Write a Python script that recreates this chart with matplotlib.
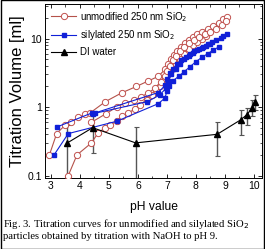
import numpy as np
import matplotlib
matplotlib.use('Agg')
import matplotlib.pyplot as plt
from matplotlib.ticker import MultipleLocator, LogLocator, NullFormatter, FixedLocator

plt.rcParams['font.family'] = ['Liberation Sans', 'DejaVu Sans']

# unmodified 250 nm SiO2, three titration runs
unmod_ph_1 = [2.95, 3.2, 3.5, 3.7, 3.95, 4.18, 4.35, 4.88, 5.45, 5.95, 6.35, 6.7, 6.95, 7.05,
              7.15, 7.25, 7.35, 7.5, 7.62, 7.75, 7.9, 8.05, 8.2, 8.4, 8.6, 8.8, 8.95, 9.08]
unmod_vol_1 = [0.2, 0.41, 0.55, 0.6, 0.71, 0.78, 0.82, 1.2, 1.62, 2.0, 2.4, 2.8, 3.6, 4.2,
               5.0, 5.8, 6.6, 7.6, 8.5, 9.5, 10.5, 11.5, 12.5, 14.0, 15.5, 17.0, 19.0, 20.5]
unmod_ph_2 = [3.6, 3.9, 4.4, 4.63, 4.87, 5.05, 5.27, 5.44, 5.67, 5.9, 6.07, 6.3, 6.47, 6.62,
              6.75, 6.85, 6.95, 7.05, 7.15, 7.3, 7.45, 7.6, 7.75, 7.9, 8.05, 8.2, 8.35]
unmod_vol_2 = [0.1, 0.2, 0.3, 0.42, 0.5, 0.55, 0.62, 0.73, 0.82, 0.94, 1.08, 1.28, 1.5, 1.75,
               2.0, 2.3, 2.6, 3.0, 3.5, 4.2, 5.0, 6.0, 7.0, 8.0, 9.0, 10.0, 11.0]
unmod_ph_3 = [4.4, 4.9, 5.27, 5.55, 5.85, 6.1, 6.35, 6.6, 6.8, 6.92, 7.02, 7.12, 7.22, 7.32,
              7.45, 7.6, 7.75, 7.92, 8.1, 8.3, 8.5, 8.7, 8.9, 9.05]
unmod_vol_3 = [0.6, 0.8, 1.0, 1.14, 1.25, 1.4, 1.6, 1.9, 2.3, 2.8, 3.4, 4.0, 4.8, 5.5,
               6.5, 7.5, 8.5, 9.5, 10.5, 11.5, 12.5, 14.0, 16.0, 18.0]

# silylated 250 nm SiO2, three titration runs
sil_ph_1 = [3.2, 4.41, 4.52, 6.7, 6.95, 7.02, 7.1, 7.2, 7.35, 7.5, 7.65, 7.8, 7.95, 8.1,
            8.25, 8.4, 8.55, 8.7, 8.85, 8.95, 9.07]
sil_vol_1 = [0.51, 0.82, 0.82, 1.63, 2.1, 2.6, 3.1, 3.6, 4.2, 4.8, 5.4, 6.0, 6.6, 7.1,
             7.6, 8.2, 8.8, 9.5, 10.2, 10.9, 11.7]
sil_ph_2 = [3.11, 3.6, 5.27, 6.7, 6.93, 7.0, 7.08, 7.2, 7.4, 7.6, 7.8, 8.0, 8.2, 8.4, 8.6, 8.8]
sil_vol_2 = [0.2, 0.41, 0.62, 1.12, 1.35, 1.7, 2.0, 2.4, 2.8, 3.3, 3.9, 4.6, 5.3, 6.0, 6.8, 7.6]
sil_ph_3 = [4.45, 6.33, 6.75, 6.98, 7.05, 7.15, 7.3, 7.45, 7.6, 7.75, 7.9, 8.05, 8.2, 8.35, 8.5]
sil_vol_3 = [0.8, 1.2, 1.5, 1.9, 2.4, 3.0, 3.6, 4.3, 5.0, 5.6, 6.2, 6.8, 7.3, 7.8, 8.4]

# DI water with error bars (lower / upper bounds)
di_ph = [3.57, 4.44, 5.92, 8.73, 9.54, 9.75, 9.94, 10.03]
di_vol = [0.30, 0.50, 0.30, 0.40, 0.65, 0.77, 0.97, 1.20]
di_lo = [0.02, 0.21, 0.02, 0.19, 0.39, 0.55, 0.73, 0.91]
di_hi = [0.55, 0.86, 0.51, 0.60, 0.91, 0.97, 1.28, 1.50]

red = '#c0504d'
red_line = '#b5524a'
blue = '#1020d8'

fig = plt.figure(figsize=(2.65, 2.49), dpi=100)
ax = fig.add_axes([0.170, 0.285, 0.819, 0.699])

for i, (px, vy) in enumerate([(unmod_ph_1, unmod_vol_1), (unmod_ph_2, unmod_vol_2), (unmod_ph_3, unmod_vol_3)]):
    ax.plot(px, vy, '-o', color=red_line, lw=0.8, ms=4.5, mfc='white', mec=red, mew=0.7,
            label='unmodified 250 nm SiO$_2$' if i == 0 else None, zorder=3)
for i, (px, vy) in enumerate([(sil_ph_1, sil_vol_1), (sil_ph_2, sil_vol_2), (sil_ph_3, sil_vol_3)]):
    ax.plot(px, vy, '-s', color=blue, lw=0.8, ms=3.5, mfc=blue, mec=blue,
            label='silylated 250 nm SiO$_2$' if i == 0 else None, zorder=4)

di_vol_a = np.array(di_vol)
yerr = [di_vol_a - np.array(di_lo), np.array(di_hi) - di_vol_a]
ax.errorbar(di_ph, di_vol, yerr=yerr, fmt='none', ecolor='#555555', elinewidth=1.0,
            capsize=1.8, capthick=0.8, zorder=2)
ax.plot(di_ph, di_vol, '-^', color='black', lw=0.8, ms=3.8, label='DI water', zorder=5)

ax.set_yscale('log')
ax.set_xlim(2.8, 10.28)
ax.set_ylim(0.092, 32)
ax.xaxis.set_major_locator(MultipleLocator(1))
ax.xaxis.set_minor_locator(MultipleLocator(0.5))
ax.yaxis.set_major_locator(FixedLocator([0.1, 1, 10]))
ax.yaxis.set_minor_locator(LogLocator(base=10, subs=np.arange(2, 10)))
ax.yaxis.set_minor_formatter(NullFormatter())
ax.set_yticklabels(['0.1', '1', '10'])
ax.tick_params(which='both', direction='in', top=True, right=True, labelsize=7.5, pad=2)
ax.tick_params(which='major', length=3, width=0.6)
ax.tick_params(which='minor', length=1.8, width=0.5)
for s in ax.spines.values():
    s.set_linewidth(0.7)

ax.set_ylabel('Titration Volume [ml]', fontsize=12, labelpad=2)
ax.set_xlabel('pH value', fontsize=8.7, labelpad=7)

ax.legend(loc='upper left', frameon=False, fontsize=7, handlelength=2.6, handletextpad=0.4,
          borderaxespad=0.3, labelspacing=0.5, borderpad=0.3)

fig.text(0.012, 0.100, 'Fig. 3. Titration curves for unmodified and silylated SiO$_2$',
         family='Liberation Serif', fontsize=7.7, va='center')
fig.text(0.012, 0.052, 'particles obtained by titration with NaOH to pH 9.',
         family='Liberation Serif', fontsize=7.7, va='center')

fig.patches.append(plt.Rectangle((0.002, 0.002), 0.996, 0.996, transform=fig.transFigure,
                                 fill=False, edgecolor='black', linewidth=1.0))

fig.savefig('out.png', dpi=100)
